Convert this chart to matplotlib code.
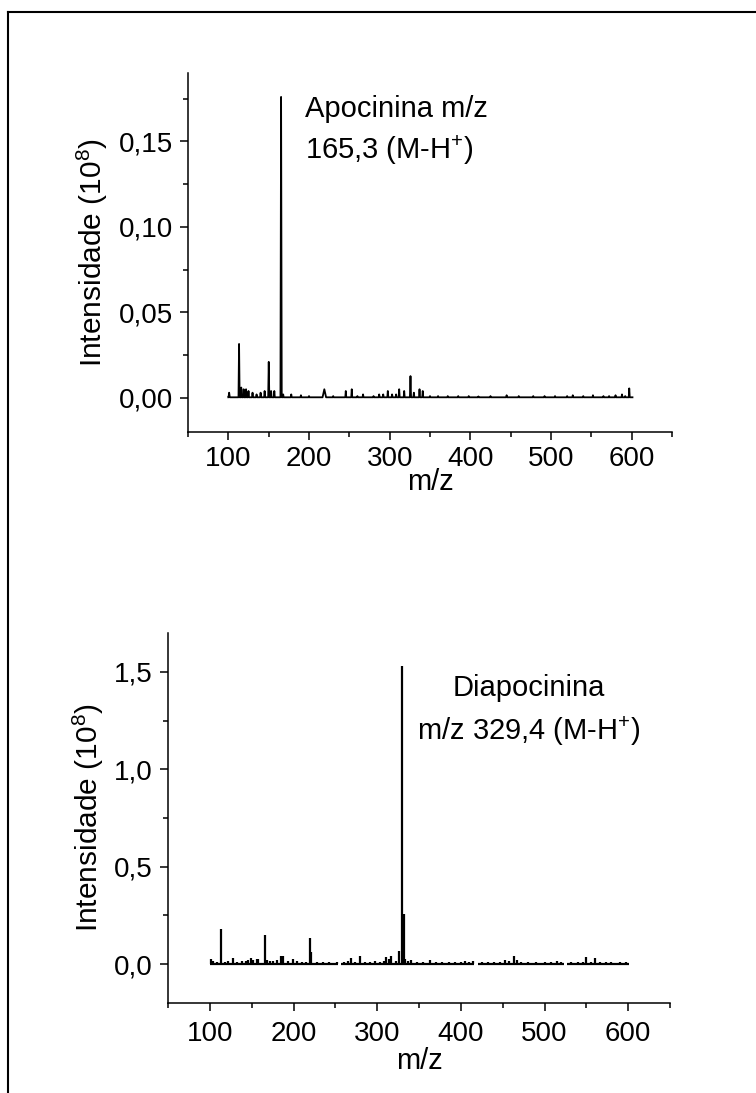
import numpy as np
import matplotlib
matplotlib.use("Agg")
import matplotlib.pyplot as plt
from matplotlib.ticker import MultipleLocator, FuncFormatter
from matplotlib.lines import Line2D

plt.rcParams["font.family"] = ["Liberation Sans", "DejaVu Sans"]
plt.rcParams["mathtext.fontset"] = "custom"
plt.rcParams["mathtext.rm"] = "Liberation Sans"
plt.rcParams["mathtext.it"] = "Liberation Sans:italic"

# -------------------------------------------------------
# DATA
# -------------------------------------------------------
# Apocinina: profile spectrum, peak m/z, height (10^8) and half width
apo_mz = [101, 113.3, 116, 119, 122, 125, 130, 135, 140, 145, 150.1, 153, 157,
          165.4, 168, 178, 190, 200, 219, 230, 245.6, 253, 260, 267, 280, 287,
          292, 297.7, 303, 308, 311.8, 318, 325.8, 330, 337, 341, 350, 360,
          372, 385, 398, 410, 425, 445, 460, 478, 492, 505, 520, 527, 540,
          552, 565, 572, 580, 588, 592, 597]
apo_int = [0.003, 0.0315, 0.006, 0.005, 0.005, 0.004, 0.003, 0.002, 0.003,
           0.004, 0.021, 0.004, 0.004, 0.176, 0.002, 0.002, 0.0015, 0.001,
           0.005, 0.001, 0.004, 0.005, 0.001, 0.002, 0.001, 0.002, 0.002,
           0.004, 0.002, 0.002, 0.005, 0.004, 0.0127, 0.003, 0.005, 0.004,
           0.001, 0.001, 0.001, 0.001, 0.001, 0.0008, 0.001, 0.0015, 0.001,
           0.001, 0.001, 0.001, 0.001, 0.0015, 0.001, 0.0015, 0.001, 0.001,
           0.0015, 0.002, 0.001, 0.0055]
apo_hw = [0.8, 0.7, 0.6, 0.6, 0.6, 0.6, 0.6, 0.6, 0.6, 0.6, 0.7, 0.6, 0.6,
          0.8, 0.6, 0.6, 0.6, 0.6, 2.2, 0.6, 0.6, 0.6, 0.6, 0.6, 0.6, 0.6,
          0.6, 0.6, 0.6, 0.6, 0.6, 0.6, 0.7, 0.6, 0.6, 0.6, 0.6, 0.6, 0.6,
          0.6, 0.6, 0.6, 0.6, 0.6, 0.6, 0.6, 0.6, 0.6, 0.6, 0.6, 0.6, 0.6,
          0.6, 0.6, 0.6, 0.6, 0.6, 0.6]
apo_range = (100, 601)

# Diapocinina: centroid sticks
dia_mz = [101, 104, 108, 113.4, 118, 122, 128, 133, 138, 143, 146, 149, 152,
          156, 158, 165.6, 168, 172, 176, 180, 185, 188, 193, 199, 204, 210,
          215, 219.9, 221, 228, 235, 242, 252, 260, 265, 269, 274, 279.7,
          285, 292, 297, 303, 308, 311, 314, 316, 322, 326, 329.9, 331.5,
          333, 337, 340, 348, 355, 363, 370, 378, 386, 393, 400, 405, 410,
          414, 425, 432, 440, 447, 453, 458, 463, 467, 472, 480, 490, 500,
          508, 515, 520, 532, 540, 546, 550, 555, 560, 566, 573, 580, 590,
          597]
dia_int = [0.025, 0.015, 0.012, 0.178, 0.012, 0.015, 0.033, 0.012, 0.015,
           0.018, 0.02, 0.03, 0.02, 0.025, 0.025, 0.149, 0.02, 0.018, 0.015,
           0.02, 0.04, 0.04, 0.015, 0.025, 0.015, 0.012, 0.01, 0.132, 0.06,
           0.012, 0.01, 0.01, 0.012, 0.01, 0.015, 0.03, 0.012, 0.04, 0.01,
           0.012, 0.017, 0.012, 0.015, 0.038, 0.025, 0.04, 0.015, 0.067,
           1.53, 0.255, 0.025, 0.015, 0.02, 0.008, 0.01, 0.02, 0.01, 0.008,
           0.01, 0.012, 0.01, 0.018, 0.01, 0.015, 0.008, 0.008, 0.01, 0.01,
           0.02, 0.015, 0.04, 0.02, 0.01, 0.008, 0.01, 0.012, 0.008, 0.015,
           0.01, 0.008, 0.01, 0.012, 0.038, 0.012, 0.03, 0.01, 0.008, 0.008,
           0.008, 0.008]
dia_segments = [(100, 253), (257, 416), (421, 523), (527, 600.5)]

apo_label = ["Apocinina m/z", r"165,3 (M-H$\mathregular{^{+}}$)"]
dia_label = ["Diapocinina", r"m/z 329,4 (M-H$\mathregular{^{+}}$)"]
ylabel = r"Intensidade (10$\mathregular{^{8}}$)"


def profile(mz, inten, hw, lo, hi, base=0.0003):
    xs, ys = [lo], [base]
    for m, h, w in sorted(zip(mz, inten, hw)):
        xs += [m - w, m, m + w]
        ys += [base, h, base]
    xs.append(hi)
    ys.append(base)
    return np.array(xs), np.array(ys)


def comma_fmt(decimals):
    return FuncFormatter(lambda v, p: f"{v:.{decimals}f}".replace(".", ","))


def style_axes(ax, xpad, xlabelpad):
    for s in ("top", "right"):
        ax.spines[s].set_visible(False)
    for s in ("left", "bottom"):
        ax.spines[s].set_linewidth(1.1)
    ax.tick_params(which="major", direction="out", length=6, width=1.1,
                   labelsize=20, pad=5)
    ax.tick_params(axis="x", which="major", pad=xpad)
    ax.tick_params(which="minor", direction="out", length=3.5, width=1.1)
    ax.set_xlim(50, 650)
    ax.xaxis.set_major_locator(MultipleLocator(100))
    ax.xaxis.set_minor_locator(MultipleLocator(50))
    ax.set_xlabel("m/z", fontsize=21, labelpad=xlabelpad)
    ax.set_ylabel(ylabel, fontsize=21.5, labelpad=6)


fig = plt.figure(figsize=(7.56, 10.93), dpi=100)

# -------------------------------------------------------
# TOP: Apocinina
# -------------------------------------------------------
ax1 = fig.add_axes([188 / 756, 1 - 432 / 1093, 484 / 756, 359 / 1093])
x1, y1 = profile(apo_mz, apo_int, apo_hw, *apo_range)
ax1.plot(x1, y1, color="black", lw=1.3)
style_axes(ax1, xpad=4, xlabelpad=-3)
ax1.set_ylim(-0.02, 0.19)
ax1.yaxis.set_major_locator(MultipleLocator(0.05))
ax1.yaxis.set_minor_locator(MultipleLocator(0.025))
ax1.yaxis.set_major_formatter(comma_fmt(2))
ax1.text(195, 0.169, apo_label[0], fontsize=21, va="center", ha="left")
ax1.text(195, 0.145, apo_label[1], fontsize=21, va="center", ha="left")

# -------------------------------------------------------
# BOTTOM: Diapocinina
# -------------------------------------------------------
ax2 = fig.add_axes([168 / 756, 1 - 1003 / 1093, 502 / 756, 370 / 1093])
for a, b in dia_segments:
    ax2.plot([a, b], [0, 0], color="black", lw=1.6, solid_capstyle="butt")
ax2.vlines(dia_mz, 0, dia_int, color="black", lw=1.6)
style_axes(ax2, xpad=7, xlabelpad=0)
ax2.set_ylim(-0.2, 1.7)
ax2.yaxis.set_major_locator(MultipleLocator(0.5))
ax2.yaxis.set_minor_locator(MultipleLocator(0.25))
ax2.yaxis.set_major_formatter(comma_fmt(1))
ax2.text(481, 1.418, dia_label[0], fontsize=21, va="center", ha="center")
ax2.text(481, 1.197, dia_label[1], fontsize=21, va="center", ha="center")

# outer frame (left + top edges, rest cut off in the original)
fx, fy = 8 / 756, 1 - 12 / 1093
fig.add_artist(Line2D([fx, fx], [0, fy], transform=fig.transFigure,
                      color="black", lw=1.5))
fig.add_artist(Line2D([fx, 1], [fy, fy], transform=fig.transFigure,
                      color="black", lw=1.5))

fig.savefig("out.png", dpi=100)
